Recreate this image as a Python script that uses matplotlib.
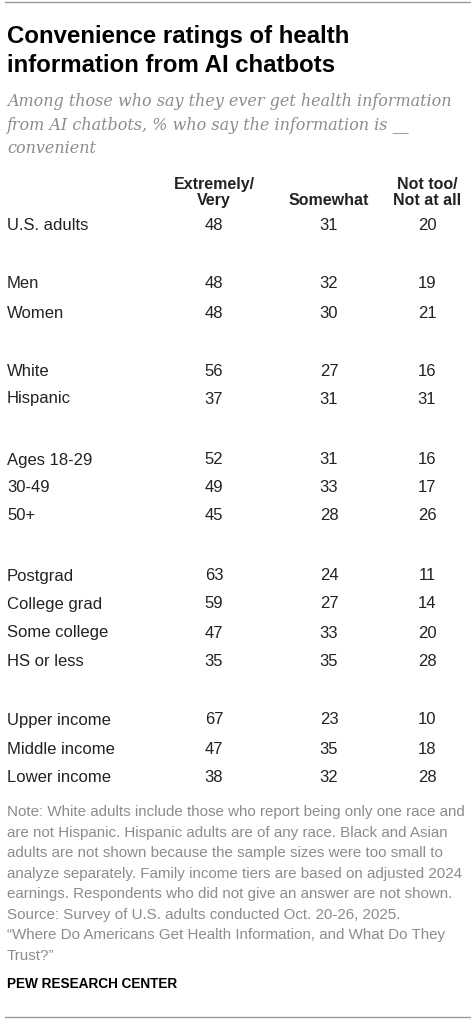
import matplotlib.pyplot as plt

groups = ["U.S. adults", "Men", "Women", "White", "Hispanic", "Ages 18-29", "30-49", "50+",
          "Postgrad", "College grad", "Some college", "HS or less",
          "Upper income", "Middle income", "Lower income"]
extremely_very = [48, 48, 48, 56, 37, 52, 49, 45, 63, 59, 47, 35, 67, 47, 38]
somewhat = [31, 32, 30, 27, 31, 31, 33, 28, 24, 27, 33, 35, 23, 35, 32]
not_too = [20, 19, 21, 16, 31, 16, 17, 26, 11, 14, 20, 28, 10, 18, 28]
col_labels = ["Extremely/\nVery", "Somewhat", "Not too/\nNot at all"]

# row y positions in pixels (top = 0)
row_y = [225, 284, 313, 371, 399, 460, 488, 516, 576, 604, 633, 662, 720, 749, 778]

W, H = 471, 1024
fig = plt.figure(figsize=(W / 100, H / 100), dpi=100)
fig.patch.set_facecolor("white")

def fy(y):
    return 1 - y / H

def fx(x):
    return x / W

sans = "Liberation Sans"
body = "#222222"
gray = "#8c8c8c"

fig.add_artist(plt.Line2D([fx(5), fx(471)], [fy(2), fy(2)], color="#999999", lw=1))
fig.add_artist(plt.Line2D([fx(5), fx(471)], [fy(1017), fy(1017)], color="#999999", lw=1))

for y, line in zip([36, 65], ["Convenience ratings of health", "information from AI chatbots"]):
    fig.text(fx(7), fy(y), line, fontsize=17.3, fontweight="bold", family=sans,
             color="black", va="center", ha="left")

fig.text(fx(7), fy(125), "Among those who say they ever get health information\n"
         "from AI chatbots, % who say the information is __\nconvenient",
         fontsize=11.5, style="italic", family="DejaVu Serif", color=gray,
         va="center", ha="left", linespacing=1.5)

col_x = [214, 329, 427]
for cx, lab in zip(col_x, col_labels):
    fig.text(fx(cx), fy(208), lab, fontsize=11.5, fontweight="bold", family=sans,
             color=body, ha="center", va="bottom", linespacing=1.1)

for y, g, a, b, c in zip(row_y, groups, extremely_very, somewhat, not_too):
    fig.text(fx(7), fy(y), g, fontsize=12, family=sans, color=body, ha="left", va="center")
    for cx, v in zip(col_x, (a, b, c)):
        fig.text(fx(cx), fy(y), str(v), fontsize=12, family=sans, color=body,
                 ha="center", va="center")

note = ("Note: White adults include those who report being only one race and\n"
        "are not Hispanic. Hispanic adults are of any race. Black and Asian\n"
        "adults are not shown because the sample sizes were too small to\n"
        "analyze separately. Family income tiers are based on adjusted 2024\n"
        "earnings. Respondents who did not give an answer are not shown.\n"
        "Source: Survey of U.S. adults conducted Oct. 20-26, 2025.\n"
        "\u201cWhere Do Americans Get Health Information, and What Do They\n"
        "Trust?\u201d")
fig.text(fx(7), fy(884), note, fontsize=10.9, family=sans, color=gray,
         ha="left", va="center", linespacing=1.6)

fig.text(fx(7), fy(984), "PEW RESEARCH CENTER", fontsize=9.8, fontweight="bold",
         family=sans, color="black", ha="left", va="center")

fig.savefig("out.png", dpi=100)
